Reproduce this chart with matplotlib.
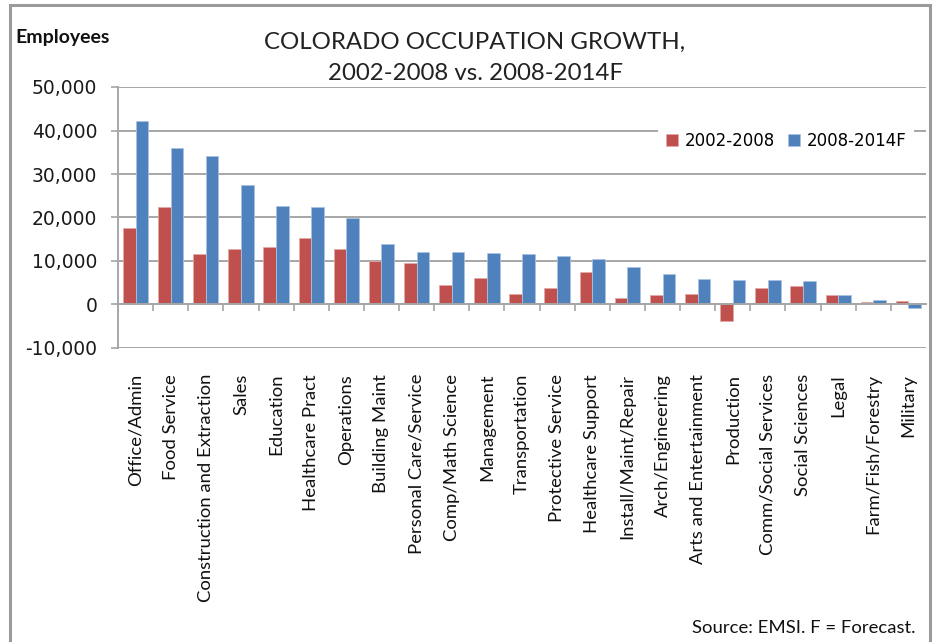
import matplotlib
matplotlib.use("Agg")
import matplotlib.pyplot as plt
import numpy as np
from matplotlib.patches import Rectangle
from matplotlib.ticker import FuncFormatter, FixedLocator

categories = ["Office/Admin", "Food Service", "Construction and Extraction", "Sales",
              "Education", "Healthcare Pract", "Operations", "Building Maint",
              "Personal Care/Service", "Comp/Math Science", "Management", "Transportation",
              "Protective Service", "Healthcare Support", "Install/Maint/Repair",
              "Arch/Engineering", "Arts and Entertainment", "Production",
              "Comm/Social Services", "Social Sciences", "Legal", "Farm/Fish/Forestry",
              "Military"]
growth_2002_2008 = [17700, 22400, 11500, 12800, 13300, 15300, 12800, 9900, 9500, 4500,
                    6000, 2400, 3900, 7500, 1600, 2100, 2400, -3700, 3700, 4200, 2100,
                    500, 700]
growth_2008_2014 = [42100, 36000, 34100, 27400, 22700, 22400, 19900, 14000, 12100, 12100,
                    11800, 11500, 11200, 10400, 8600, 6900, 5900, 5700, 5700, 5400, 2100,
                    1000, -800]
series_labels = ["2002-2008", "2008-2014F"]
yticks = [-10000, 0, 10000, 20000, 30000, 40000, 50000]

RED = "#C0504D"
BLUE = "#4F81BD"
GRID = "#A6A6A6"
LABEL_FONT = ["Lato", "DejaVu Sans"]

fig = plt.figure(figsize=(9.35, 6.42), dpi=100)
ax = fig.add_axes([118/935, 1-348/642, (926-118)/935, (348-87)/642])

x = np.arange(len(categories))
w = 0.36
ax.bar(x - w/2, growth_2002_2008, width=w, color=RED, edgecolor="#E3A9A7", linewidth=0.6,
       label=series_labels[0], zorder=3)
ax.bar(x + w/2, growth_2008_2014, width=w, color=BLUE, edgecolor="#A9C2E2", linewidth=0.6,
       label=series_labels[1], zorder=3)

ax.set_xlim(-0.5, len(categories) - 0.5)
ax.set_ylim(-10000, 50000)
ax.set_yticks(yticks)
ax.yaxis.set_major_formatter(FuncFormatter(lambda v, p: f"{int(v):,}"))
ax.grid(axis="y", color=GRID, linewidth=1.4, zorder=0)
ax.set_axisbelow(True)

for s in ["top", "right"]:
    ax.spines[s].set_visible(False)
ax.spines["left"].set_color(GRID)
ax.spines["left"].set_linewidth(1.4)
ax.spines["bottom"].set_position(("data", 0))
ax.spines["bottom"].set_color(GRID)
ax.spines["bottom"].set_linewidth(1.4)
ax.spines["bottom"].set_zorder(4)

ax.tick_params(axis="y", direction="out", length=5, width=1.2, color=GRID,
               labelsize=13.5, pad=10, labelcolor="#1a1a1a")
for t in ax.get_yticklabels():
    t.set_fontfamily("DejaVu Sans")

ax.set_xticks(x)
ax.set_xticklabels(categories, rotation=90, va="top", ha="center",
                   fontsize=13.3, fontfamily=LABEL_FONT)
ax.tick_params(axis="x", which="major", length=0, pad=50, labelcolor="#111111")
ax.xaxis.set_minor_locator(FixedLocator(x[:-1] + 0.5))
ax.tick_params(axis="x", which="minor", direction="out", length=5, width=1.2, color=GRID)

leg = ax.legend(loc="center", bbox_to_anchor=(786/935, 1-141/642),
                bbox_transform=fig.transFigure, ncol=2, frameon=True, fancybox=False,
                handlelength=0.7, handleheight=0.7, handletextpad=0.4, columnspacing=0.8,
                prop={"family": "DejaVu Sans", "size": 12}, borderpad=0.5)
leg.get_frame().set_facecolor("white")
leg.get_frame().set_edgecolor("none")
leg.get_frame().set_alpha(1)
leg.set_zorder(5)

fig.text(475/935, 1-42/642, "COLORADO OCCUPATION GROWTH,", ha="center", va="center",
         fontsize=17.3, fontfamily=LABEL_FONT, color="#222222")
fig.text(475/935, 1-74/642, "2002-2008 vs. 2008-2014F", ha="center", va="center",
         fontsize=17.3, fontfamily=LABEL_FONT, color="#222222")
fig.text(15/935, 1-38/642, "Employees", ha="left", va="center", fontsize=14,
         fontweight="bold", fontfamily=LABEL_FONT, color="#111111")
fig.text(915/935, 1-628/642, "Source: EMSI. F = Forecast.", ha="right", va="center",
         fontsize=13.3, fontfamily=LABEL_FONT, color="#111111")

fig.patches.append(Rectangle((10/935, -0.05), (930-10)/935, 1.05 - 5/642,
                             transform=fig.transFigure, fill=False,
                             edgecolor="#9A9A9A", linewidth=2.2))

fig.savefig("out.png", dpi=100)
